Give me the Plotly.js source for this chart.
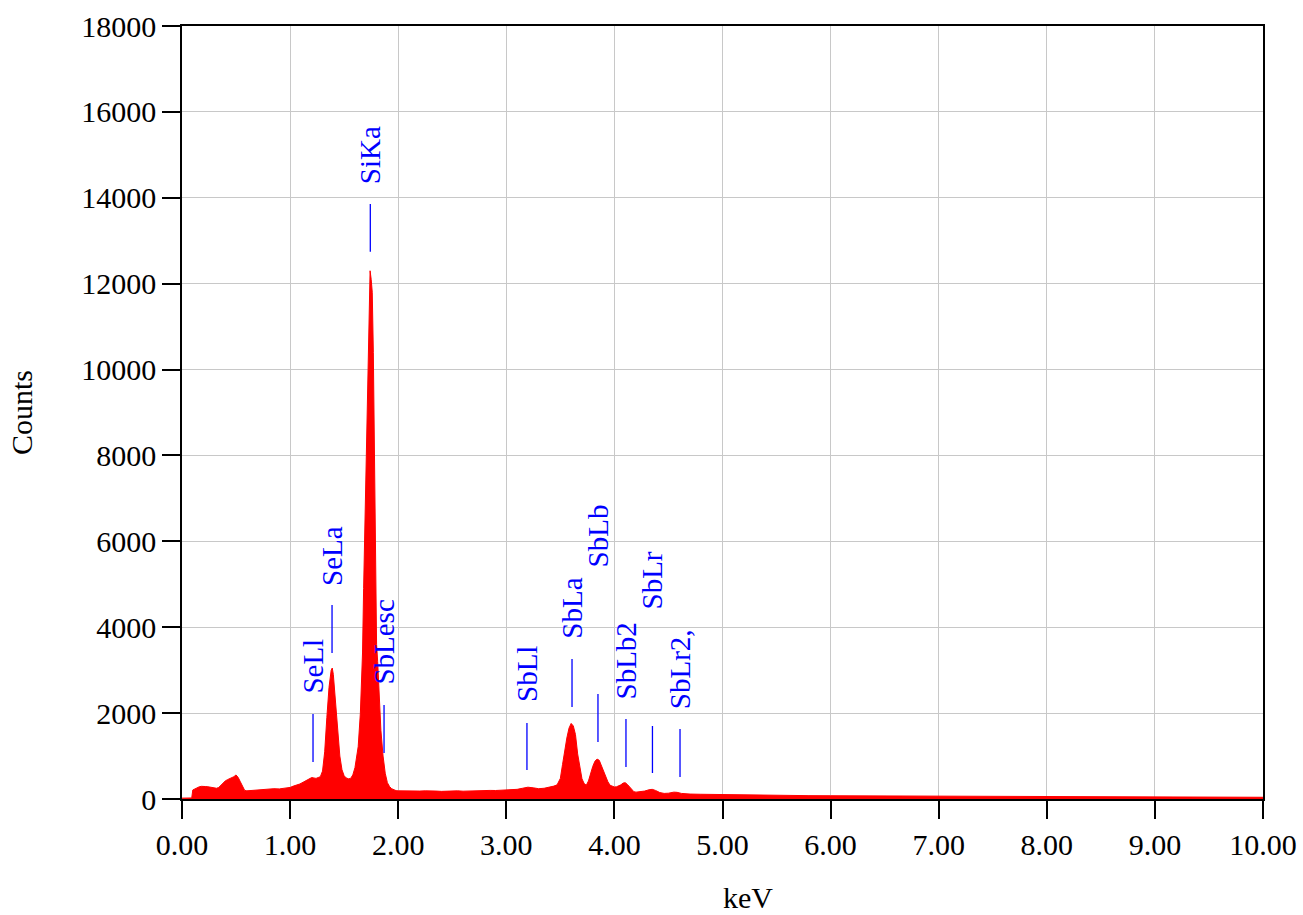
<!DOCTYPE html>
<html>
<head>
<meta charset="utf-8">
<script src="https://cdn.plot.ly/plotly-3.0.1.min.js"></script>
<style>
  html, body { margin: 0; padding: 0; background: #fff; }
  #spectrum { width: 1303px; height: 915px; }
</style>
</head>
<body>
<div id="spectrum"></div>
<script>
// EDS spectrum, counts vs keV, with element line markers

const energy = [
  0.00, 0.05, 0.09, 0.10, 0.12, 0.14, 0.16, 0.18, 0.20, 0.22, 0.24, 0.26, 0.28, 0.30,
  0.32, 0.34, 0.36, 0.38, 0.40, 0.42, 0.44, 0.46, 0.48, 0.50, 0.51, 0.52, 0.54, 0.56,
  0.58, 0.60, 0.62, 0.65, 0.70, 0.75, 0.80, 0.85, 0.90, 0.95, 1.00, 1.03, 1.06, 1.09,
  1.12, 1.15, 1.18, 1.20, 1.22, 1.24, 1.26, 1.28, 1.30, 1.32, 1.34, 1.36, 1.38, 1.39,
  1.40, 1.42, 1.44, 1.46, 1.48, 1.50, 1.52, 1.54, 1.56, 1.58, 1.60, 1.62, 1.63, 1.65,
  1.66, 1.67, 1.68, 1.69, 1.70, 1.71, 1.72, 1.73, 1.74, 1.75, 1.76, 1.77, 1.78, 1.79,
  1.80, 1.81, 1.82, 1.83, 1.84, 1.86, 1.88, 1.90, 1.92, 1.94, 1.96, 1.98, 2.00, 2.05,
  2.10, 2.15, 2.20, 2.25, 2.30, 2.35, 2.40, 2.45, 2.50, 2.55, 2.60, 2.65, 2.70, 2.75,
  2.80, 2.85, 2.90, 2.95, 3.00, 3.05, 3.10, 3.15, 3.20, 3.25, 3.30, 3.35, 3.40, 3.44,
  3.47, 3.50, 3.52, 3.54, 3.56, 3.58, 3.60, 3.62, 3.64, 3.66, 3.68, 3.70, 3.72, 3.74,
  3.76, 3.78, 3.80, 3.82, 3.84, 3.86, 3.88, 3.90, 3.92, 3.94, 3.96, 3.98, 4.00, 4.02,
  4.04, 4.06, 4.08, 4.10, 4.12, 4.14, 4.16, 4.18, 4.20, 4.24, 4.28, 4.32, 4.35, 4.38,
  4.42, 4.46, 4.50, 4.55, 4.58, 4.62, 4.66, 4.70, 4.80, 4.90, 5.00, 5.20, 5.40, 5.60,
  5.80, 6.00, 6.20, 6.40, 6.60, 6.80, 7.00, 7.20, 7.40, 7.60, 7.80, 8.00, 8.20, 8.40,
  8.60, 8.80, 9.00, 9.20, 9.40, 9.60, 9.80, 10.00
];

const counts = [
  20, 20, 25, 210, 240, 270, 285, 295, 300, 290, 285, 280, 270, 255,
  250, 270, 320, 380, 420, 450, 470, 500, 520, 560, 540, 500, 400, 280,
  200, 190, 195, 205, 215, 220, 230, 240, 235, 250, 270, 300, 320, 350,
  390, 430, 470, 500, 490, 480, 500, 520, 650, 1100, 1900, 2600, 3000, 3050,
  2900, 2300, 1600, 1000, 680, 540, 490, 470, 480, 560, 730, 1000, 1220, 2000,
  2600, 3400, 4900, 6200, 7400, 8700, 10400, 11600, 12300, 12100, 11800, 10400, 8000, 5700,
  3600, 3200, 2700, 2000, 1600, 1000, 600, 380, 290, 240, 210, 195, 190, 185,
  190, 180, 185, 190, 180, 185, 178, 185, 180, 190, 182, 188, 180, 195,
  190, 200, 198, 205, 200, 210, 225, 250, 275, 260, 240, 250, 270, 300,
  330, 480, 800, 1150, 1420, 1650, 1760, 1700, 1500, 1050, 700, 470, 360, 320,
  420, 600, 760, 880, 930, 900, 780, 640, 500, 400, 320, 290, 280, 285,
  300, 330, 370, 380, 340, 280, 210, 170, 160, 165, 185, 215, 225, 200,
  150, 130, 135, 160, 155, 130, 118, 115, 110, 105, 100, 92, 85, 82,
  78, 76, 74, 72, 70, 65, 62, 60, 58, 55, 52, 50, 50, 48,
  47, 46, 45, 44, 44, 42, 42, 40
];

// element lines: energy, marker top / bottom and text base (counts)
const lineNames = ["SeLl", "SeLa", "SiKa", "SbLesc", "SbLl", "SbLa", "SbLb", "SbLb2", "SbLr", "SbLr2,"];
const lineEnergy = [1.212, 1.388, 1.742, 1.869, 3.191, 3.608, 3.848, 4.107, 4.352, 4.607];
const lineTop = [1980, 4520, 13855, 2190, 1770, 3260, 2445, 1865, 1700, 1630];
const lineBottom = [860, 3400, 12745, 1070, 675, 2140, 1325, 745, 605, 510];
const labelBase = [2420, 4940, 14300, 2630, 2235, 3700, 5380, 2305, 4400, 2070];

const xTicks = [0, 1, 2, 3, 4, 5, 6, 7, 8, 9, 10];

const FONT = "Liberation Serif, Times New Roman, serif";

const markX = [];
const markY = [];
lineEnergy.forEach((e, i) => {
  markX.push(e, e, null);
  markY.push(lineBottom[i], lineTop[i], null);
});

const traces = [
  {
    x: energy,
    y: counts,
    type: "scatter",
    mode: "lines",
    fill: "tozeroy",
    fillcolor: "#ff0000",
    line: { color: "#ff0000", width: 1 },
    hoverinfo: "x+y",
    showlegend: false
  },
  {
    x: markX,
    y: markY,
    type: "scatter",
    mode: "lines",
    line: { color: "#0000ff", width: 1.3 },
    hoverinfo: "skip",
    showlegend: false
  }
];

const annotations = lineNames.map((name, i) => ({
  x: lineEnergy[i],
  y: labelBase[i],
  xref: "x",
  yref: "y",
  text: name,
  textangle: -90,
  xanchor: "center",
  yanchor: "bottom",
  showarrow: false,
  borderpad: 0,
  font: { family: FONT, size: 29, color: "#0000ff" }
}));

// x axis title, drawn as a note so it can sit right of centre like the original
annotations.push({
  x: 0.5236,
  y: -0.1495,
  xref: "paper",
  yref: "paper",
  text: "keV",
  showarrow: false,
  xanchor: "center",
  yanchor: "bottom",
  borderpad: 0,
  font: { family: FONT, size: 30, color: "#000" }
});

const layout = {
  width: 1303,
  height: 915,
  margin: { l: 182, r: 40, t: 26, b: 116 },
  paper_bgcolor: "#ffffff",
  plot_bgcolor: "#ffffff",
  font: { family: FONT, size: 30, color: "#000" },
  showlegend: false,
  xaxis: {
    range: [0, 10],
    tickvals: xTicks,
    tickformat: ".2f",
    showgrid: true,
    gridcolor: "#c8c8c8",
    gridwidth: 1,
    zeroline: false,
    showline: true,
    linecolor: "#000",
    linewidth: 1.5,
    mirror: true,
    ticks: "outside",
    ticklen: 18,
    tickwidth: 2,
    tickcolor: "#000",
    tickfont: { family: FONT, size: 30, color: "#000" }
  },
  yaxis: {
    range: [0, 18000],
    dtick: 2000,
    tick0: 0,
    tickformat: "d",
    showgrid: true,
    gridcolor: "#c8c8c8",
    gridwidth: 1,
    zeroline: false,
    showline: true,
    linecolor: "#000",
    linewidth: 1.5,
    mirror: true,
    ticks: "outside",
    ticklen: 18,
    tickwidth: 2,
    tickcolor: "#000",
    tickfont: { family: FONT, size: 30, color: "#000" },
    title: {
      text: "Counts",
      standoff: 40,
      font: { family: FONT, size: 30, color: "#000" }
    }
  },
  annotations: annotations
};

Plotly.newPlot("spectrum", traces, layout, { displayModeBar: false, responsive: false });
</script>
</body>
</html>
